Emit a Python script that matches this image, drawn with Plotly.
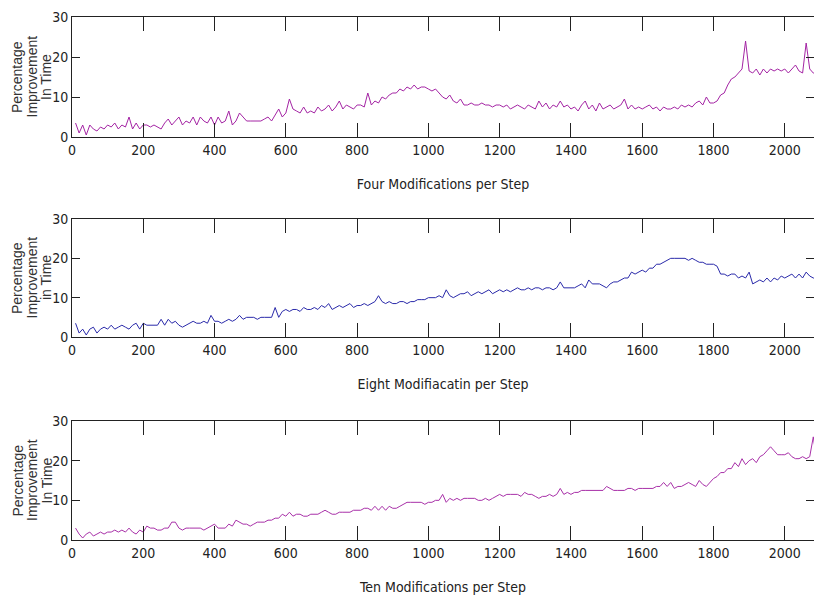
import plotly.graph_objects as go
from plotly.subplots import make_subplots

steps = list(range(10, 2091, 10))

four_mods = [
    3.5, 1, 3, 0.5, 3, 2, 1.5, 2.5, 2, 3,
    2.5, 3.5, 2, 3, 2.5, 5, 2, 3.5, 2, 3,
    3, 2.5, 3, 2.5, 2, 3.5, 4.5, 3, 4, 5,
    3, 4, 3.5, 5, 3, 5, 4, 3.5, 5, 3,
    5, 3.5, 4, 6.5, 3, 4, 6, 5, 4, 4,
    4, 4, 4, 4.5, 5, 4, 5.5, 7, 5, 6,
    9.5, 7, 6.5, 6, 7.5, 6, 6.5, 6, 7.5, 6.5,
    7, 8, 6.5, 7.5, 9, 7, 8, 7.5, 7, 8,
    8, 7.5, 11, 8, 9, 8.5, 10, 9.5, 10.5, 11,
    11, 12, 11.5, 12.5, 12, 13, 12, 12.5, 12.5, 12,
    11.5, 12, 11, 10, 9.5, 10.5, 9, 8.5, 9.5, 8,
    8, 8.5, 8, 8, 8.5, 8, 8, 7.5, 8, 8,
    7.5, 8, 7, 7.5, 8, 7.5, 7, 8, 7.5, 7,
    9, 7.5, 8.5, 7, 8, 7.5, 9, 7.5, 8, 7,
    7.5, 6.5, 8, 9, 7, 8, 6.5, 8.5, 7, 7.5,
    8, 7, 7.5, 8, 9.5, 7, 8, 7, 7.5, 7,
    7.5, 8, 7, 7.5, 6.5, 7.5, 7, 7, 7.5, 7,
    8, 7.5, 8, 7.5, 8.5, 9, 8, 10, 8.5, 8.5,
    9, 10.5, 11, 13, 14.5, 15, 16, 17, 24, 16.5,
    16, 17, 15.5, 17, 16, 17, 16.5, 17, 16.5, 17,
    16, 17, 18, 16.5, 16, 23.5, 17, 16, 15.5,
]

eight_mods = [
    3.5, 1, 2, 0.5, 2, 2.5, 1, 2, 2.5, 2,
    3, 2, 2.5, 3, 2.5, 2, 3, 3.5, 2, 3.5,
    3, 3, 3, 3, 4.5, 3, 4.5, 3.5, 4, 3,
    2.5, 3, 3.5, 4, 3.5, 3.5, 4, 3.5, 5.5, 4,
    4, 3.5, 4, 4.5, 4, 4.5, 5.5, 4.5, 5, 5,
    5, 4.5, 5, 5, 5, 5, 7.5, 5, 6.5, 7,
    6.5, 7, 7, 6.5, 7.5, 7, 7, 7.5, 7, 8,
    7.5, 8.5, 7, 7.5, 8, 7.5, 8, 8.5, 7.5, 8,
    8, 8.5, 8, 8.5, 9, 10.5, 9, 8.5, 9, 8.5,
    8.5, 9, 9, 8.5, 9, 9, 9.5, 9.5, 9.5, 10,
    10, 10, 10.5, 10, 12, 10.5, 10, 10.5, 11, 11,
    11.5, 10.5, 11, 11.5, 11, 11.5, 12, 11, 11.5, 12,
    11.5, 12, 11.5, 12, 12.5, 12, 12, 12.5, 12, 12.5,
    12.5, 12, 12.5, 12.5, 12, 12.5, 14, 12.5, 12.5, 12.5,
    12.5, 13, 13.5, 12.5, 14.5, 13.5, 13.5, 13.5, 13, 12.5,
    13.5, 14, 14, 14.5, 15, 15, 16.5, 16, 16.5, 17,
    16.5, 17.5, 17.5, 18.5, 18.5, 19, 19.5, 20, 20, 20,
    20, 20, 19.5, 20, 19.5, 19, 19, 18.5, 18.5, 18.5,
    18, 16, 16, 15.5, 16, 16, 15, 15.5, 15, 16.5,
    13.5, 14, 14.5, 14, 15, 14, 15, 14.5, 15.5, 15,
    15.5, 16, 15, 16, 15, 16.5, 15.5, 15, 15,
]

ten_mods = [
    3, 1.5, 0.5, 1.5, 2, 1, 1.5, 2, 1.5, 2,
    2, 2.5, 2, 2.5, 2, 3, 2, 1.5, 2.5, 2,
    3.5, 3, 3, 2.5, 2.5, 3, 3, 4.5, 4.5, 3,
    2.5, 3, 3, 3, 3, 3, 2.5, 3, 3.5, 4,
    3, 3, 3, 4, 3.5, 5, 4.5, 4, 4, 3.5,
    4, 4.5, 4.5, 4.5, 5, 5, 5.5, 5.5, 6.5, 6,
    7, 6, 6.5, 6.5, 6, 6, 6.5, 6.5, 6.5, 7,
    7.5, 7, 6.5, 6.5, 7, 7, 7, 7, 7.5, 7.5,
    7.5, 8, 8, 7.5, 8.5, 7.5, 8.5, 7.5, 8.5, 8,
    8, 8.5, 9, 9.5, 9.5, 9.5, 9.5, 9.5, 9, 9.5,
    9.5, 10, 10, 11.5, 9.5, 10.5, 10, 10.5, 10, 10.5,
    10.5, 10.5, 10.5, 10, 10, 10.5, 10, 10.5, 11, 11.5,
    11, 11.5, 11.5, 11.5, 11.5, 11, 12, 11.5, 11.5, 11,
    10.5, 11, 11, 11.5, 11, 11.5, 13, 11.5, 12, 11.5,
    12, 12, 12.5, 12.5, 12.5, 12.5, 12.5, 12.5, 12.5, 13.5,
    13, 12.5, 12.5, 12.5, 12.5, 13, 13, 12.5, 13, 13,
    13, 13, 13, 13.5, 13.5, 14.5, 13.5, 14.5, 13, 13.5,
    13.5, 14, 14.5, 14, 13.5, 15, 14, 13.5, 14.5, 15.5,
    16, 17, 17, 18, 18, 19.5, 18.5, 20.5, 19, 20,
    20.5, 19.5, 21, 21.5, 22.5, 23.5, 22.5, 21.5, 21.5, 21.5,
    22, 21, 20.5, 20.5, 21, 20.5, 21, 26, 20,
]

x_titles = ["Four Modifications per Step", "Eight Modifiacatin per Step", "Ten Modifications per Step"]
y_title_lines = [
    ["Percentage", "Improvement", "In Time"],
    ["Percentage", "Improvement", "in Time"],
    ["Percentage", "Improvement", "In Time"],
]
series = [four_mods, eight_mods, ten_mods]
colors = ["#a424a4", "#2a2aaa", "#a830a8"]
x_ticks = [0, 200, 400, 600, 800, 1000, 1200, 1400, 1600, 1800, 2000]
y_ticks = [0, 10, 20, 30]

W, H = 814, 602
ML, MR, MT, MB = 72, 0, 17, 62
plot_h = H - MT - MB
panels_px = [(17, 137), (219, 337), (421, 540)]
domains = [[(540 - b) / plot_h, (540 - t) / plot_h] for t, b in panels_px]

fig = make_subplots(rows=3, cols=1)
narrow = "Liberation Sans Narrow, DejaVu Sans Condensed, Arial Narrow, Liberation Sans, sans-serif"
tick_font = dict(family=narrow, size=14, color="#222")

for i in range(3):
    r = i + 1
    fig.add_trace(go.Scatter(x=steps, y=series[i], mode="lines",
                             line=dict(color=colors[i], width=1), showlegend=False),
                  row=r, col=1)
    fig.update_xaxes(row=r, col=1, range=[0, 2082], tickvals=x_ticks,
                     ticks="inside", ticklen=14, tickcolor="#222", tickwidth=1,
                     showline=True, linecolor="#222", linewidth=1, mirror="ticks",
                     showgrid=False, zeroline=False, tickfont=tick_font,
                     title=dict(text=x_titles[i], font=dict(family=narrow, size=14, color="#222"), standoff=22))
    fig.update_yaxes(row=r, col=1, range=[0, 30], tickvals=y_ticks,
                     ticks="inside", ticklen=8, tickcolor="#222", tickwidth=1,
                     showline=True, linecolor="#222", linewidth=1, mirror="ticks",
                     showgrid=False, zeroline=False, tickfont=tick_font,
                     domain=domains[i])
    yc = 1 - ((panels_px[i][0] + panels_px[i][1]) / 2 - MT) / plot_h
    for j, line in enumerate(y_title_lines[i]):
        fig.add_annotation(text=line, xref="paper", yref="paper", x=0, y=yc,
                           xanchor="center", yanchor="middle", xshift=[17, 31.5, 46][j] - ML,
                           textangle=-90, showarrow=False,
                           font=dict(family="Liberation Sans, Arial, sans-serif", size=14, color="#333"))

fig.update_layout(width=W, height=H, margin=dict(l=ML, r=MR, t=MT, b=MB),
                  plot_bgcolor="white", paper_bgcolor="white")

fig.write_html("out.html")
